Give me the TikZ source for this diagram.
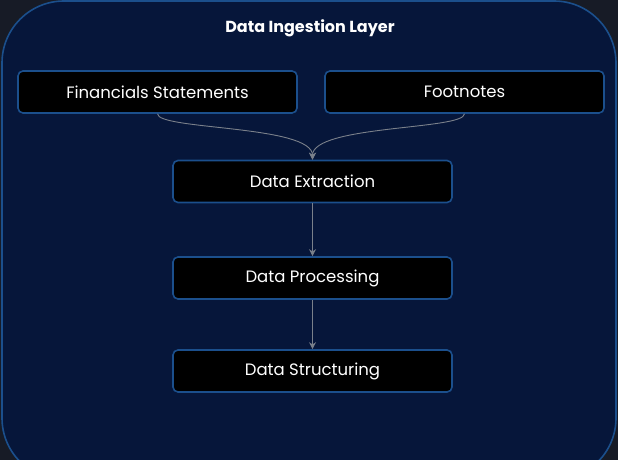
\documentclass[tikz,border=0pt]{standalone}
\usepackage{fontspec}
\setmainfont{Poppins}
\usetikzlibrary{arrows.meta}
\definecolor{pagebg}{HTML}{171B26}
\definecolor{layerbg}{HTML}{06163A}
\definecolor{edgeblue}{HTML}{1B4F8C}
\definecolor{linkgray}{HTML}{7A808A}
\begin{document}
\begin{tikzpicture}[x=1pt,y=-1pt]
\tikzset{stepbox/.style={draw=edgeblue,line width=1.6pt,fill=black,rounded corners=5pt,
  minimum width=279pt,minimum height=42pt,inner sep=0pt,text=white,font=\fontsize{16.5}{19}\selectfont},
  link/.style={draw=linkgray,line width=0.9pt,-{Stealth[length=7pt,width=7pt]}}}
\useasboundingbox (0,0) rectangle (618,460);
\fill [pagebg] (0,0) rectangle (618,460);
\draw [edgeblue,fill=layerbg,line width=1.6pt,rounded corners=62pt] (2,1) rectangle (616,480);
\node [text=white,font=\bfseries\fontsize{16}{19}\selectfont] (title) at (310,28) {Data Ingestion Layer};
\node [stepbox] (fin) at (157.5,92) {Financials Statements};
\node [stepbox] (foot) at (464.5,92) {Footnotes};
\node [stepbox] (extract) at (312.5,181.5) {Data Extraction};
\node [stepbox] (process) at (312.5,278) {Data Processing};
\node [stepbox] (struct) at (312.5,371) {Data Structuring};
\draw [link] (fin.south) .. controls (157.5,130) and (312.5,125) .. (extract.north);
\draw [link] (foot.south) .. controls (464.5,130) and (312.5,125) .. (extract.north);
\draw [link] (extract) -- (process);
\draw [link] (process) -- (struct);
\end{tikzpicture}
\end{document}
